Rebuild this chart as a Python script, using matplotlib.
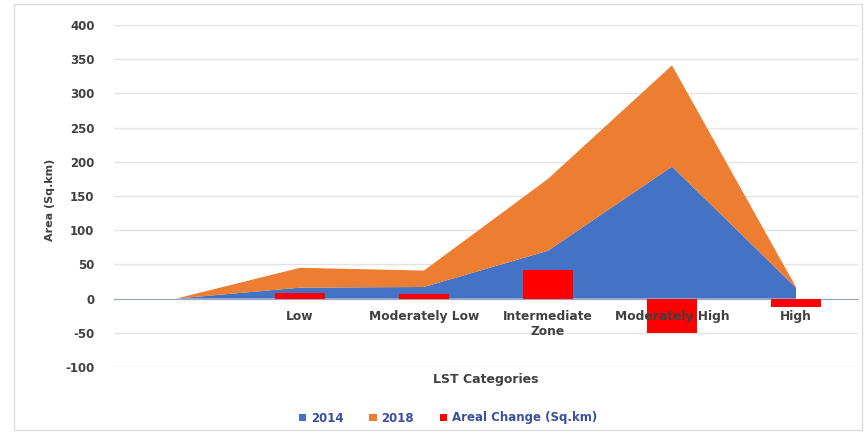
import matplotlib.pyplot as plt
from matplotlib.patches import Rectangle
import numpy as np

plt.rcParams['axes.unicode_minus'] = False

categories = ['', 'Low', 'Moderately Low', 'Intermediate\nZone', 'Moderately High', 'High']
area_2014 = [0, 16, 17, 70, 193, 16]
area_2018 = [0, 29, 24, 105, 148, 1]
areal_change = [0, 8, 7, 42, -51, -13]

blue = '#4472C4'
orange = '#ED7D31'
red = '#FF0000'

fig = plt.figure(figsize=(8.68, 4.34), dpi=100)
ax = fig.add_axes([114 / 868, 67 / 434, 744 / 868, 342 / 434])

x = np.arange(len(categories))
ax.stackplot(x, area_2014, area_2018, colors=[blue, orange], labels=['2014', '2018'], zorder=2)
ax.bar(x, areal_change, width=0.4, color=red, label='Areal Change (Sq.km)', zorder=3)

# move the category axis to y=0 first (this resets the tick labels)
ax.spines['bottom'].set_position(('data', 0))
ax.spines['bottom'].set_color('#a0a8c0')
ax.spines['bottom'].set_zorder(1)
for s in ['top', 'right', 'left']:
    ax.spines[s].set_visible(False)

ax.set_xlim(-0.5, len(categories) - 0.5)
ax.set_ylim(-100, 400)
ax.set_yticks(np.arange(-100, 401, 50))
ax.yaxis.grid(True, color='#e3e3e3', linewidth=1)
ax.set_axisbelow(True)
ax.xaxis.set_zorder(4)  # category labels sit on top of the bars

ax.set_xticks(x)
ax.set_xticklabels(categories, fontsize=8.8, fontweight='bold', color='#404040')
ax.tick_params(axis='both', length=0)
ax.tick_params(axis='x', pad=8)
ax.tick_params(axis='y', labelsize=8.5, labelcolor='#404040', pad=14)
for t in ax.get_yticklabels():
    t.set_fontweight('bold')

fig.text(50 / 868, 1 - 200 / 434, 'Area (Sq.km)', rotation=90, ha='center', va='center',
         fontsize=8, fontweight='bold', color='#404040')
fig.text(486 / 868, 1 - 380 / 434, 'LST Categories', ha='center', va='center',
         fontsize=9, fontweight='bold', color='#404040')

handles, labels = ax.get_legend_handles_labels()
leg = fig.legend(handles, labels, loc='center', bbox_to_anchor=(448 / 868, 1 - 418 / 434), ncol=3,
                 frameon=False, fontsize=8.5, handlelength=0.6, handleheight=0.6,
                 columnspacing=2.2, handletextpad=0.4)
for t in leg.get_texts():
    t.set_color('#3a4fa0')
    t.set_fontweight('bold')

fig.patches.append(Rectangle((14 / 868, 4 / 434), 848 / 868, 426 / 434, transform=fig.transFigure,
                             fill=False, edgecolor='#dcdcdc', linewidth=1))

fig.savefig('out.png', dpi=100)
